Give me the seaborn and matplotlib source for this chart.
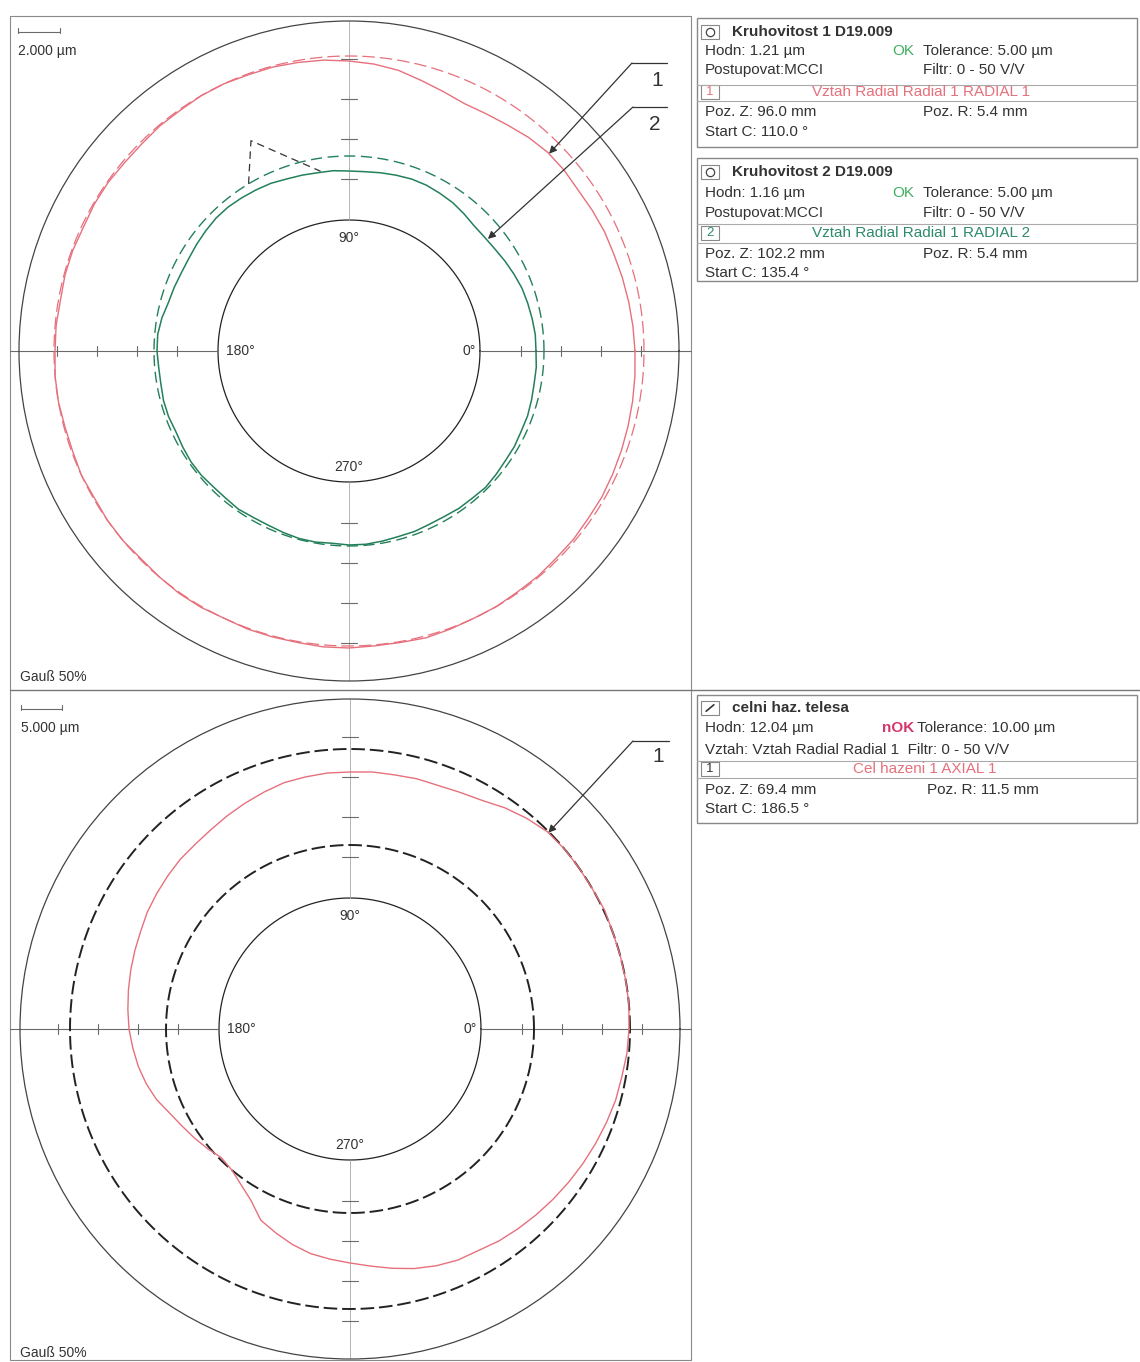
import numpy as np
import matplotlib
matplotlib.use("Agg")
import matplotlib.pyplot as plt
from matplotlib.patches import Rectangle
import seaborn as sns

# ---------------- data ----------------
angles_deg = list(range(0, 360, 5))

# Panel 1 (Kruhovitost) - plotted radius of each profile
red1_profile = [286, 285, 284, 283, 282, 282, 281, 280, 281, 281, 279, 276,
                274, 273, 276, 280, 285, 288, 290, 292, 293, 294, 294, 295,
                295, 294, 294, 293, 293, 294, 294, 293, 294, 294, 293, 294,
                294, 295, 295, 294, 294, 295, 294, 295, 295, 294, 295, 296,
                296, 295, 296, 296, 296, 297, 297, 296, 296, 297, 296, 295,
                295, 294, 294, 293, 293, 292, 292, 291, 290, 289, 288, 287]
green1_profile = [187, 187, 186, 185, 184, 182, 180, 178, 177, 177, 179, 181,
                  182, 183, 183, 182, 181, 180, 180, 181, 181, 182, 183, 185,
                  186, 187, 188, 188, 187, 186, 185, 185, 186, 187, 190, 192,
                  192, 191, 191, 192, 192, 191, 192, 193, 193, 192, 192, 193,
                  192, 192, 193, 194, 194, 193, 194, 194, 193, 192, 192, 191,
                  191, 192, 192, 193, 192, 191, 191, 190, 190, 189, 188, 188]
red1_ref = 295
green1_ref = 195
start_marker_deg = [121, 115, 99]
start_marker_r = [195, 232, 182]

# Panel 2 (celni haz. telesa)
red2_profile = [279, 280, 280, 280, 280, 281, 280, 280, 280, 279, 275, 270,
                264, 261, 259, 259, 258, 258, 257, 257, 256, 255, 252, 249,
                246, 243, 241, 240, 238, 236, 234, 231, 229, 227, 225, 223,
                221, 218, 215, 211, 206, 199, 194, 190, 186, 182, 184, 190,
                198, 211, 217, 223, 228, 231, 234, 238, 243, 248, 252, 255,
                256, 259, 261, 263, 265, 267, 269, 271, 273, 275, 276, 278]
dash2_outer = 280
dash2_inner = 184

inner_r = 131
outer_r = 330
tick_r = [172, 212, 252, 292]
angle_label_deg = [0, 90, 180, 270]
angle_label_txt = ["0°", "90°", "180°", "270°"]
angle_label_r = [120, 113, 109, 116]

scale_labels = ["2.000 µm", "5.000 µm"]
filter_label = "Gauß 50%"

box1_lines = ["Kruhovitost 1 D19.009", "Hodn: 1.21 µm", "OK", "Tolerance: 5.00 µm",
              "Postupovat:MCCI", "Filtr: 0 - 50 V/V", "1", "Vztah Radial Radial 1 RADIAL 1",
              "Poz. Z: 96.0 mm", "Poz. R: 5.4 mm", "Start C: 110.0 °"]
box2_lines = ["Kruhovitost 2 D19.009", "Hodn: 1.16 µm", "OK", "Tolerance: 5.00 µm",
              "Postupovat:MCCI", "Filtr: 0 - 50 V/V", "2", "Vztah Radial Radial 1 RADIAL 2",
              "Poz. Z: 102.2 mm", "Poz. R: 5.4 mm", "Start C: 135.4 °"]
box3_lines = ["celni haz. telesa", "Hodn: 12.04 µm", "nOK", "Tolerance: 10.00 µm",
              "Vztah: Vztah Radial Radial 1  Filtr: 0 - 50 V/V", "1", "Cel hazeni 1 AXIAL 1",
              "Poz. Z: 69.4 mm", "Poz. R: 11.5 mm", "Start C: 186.5 °"]

# ---------------- style ----------------
sns.set_theme(style="white")
plt.rcParams["font.family"] = ["Liberation Sans", "DejaVu Sans"]

RED = "#e6707c"
GREEN = "#23805a"
TXT = "#333333"
GRAY = "#6a6a6a"

W, H = 1140, 1362
fig = plt.figure(figsize=(W / 100, H / 100), dpi=100)
fig.patch.set_facecolor("white")

bg = fig.add_axes([0, 0, 1, 1])
bg.set_xlim(0, W)
bg.set_ylim(H, 0)
bg.axis("off")
bg.set_zorder(0)

# panel frames
bg.plot([10, 691, 691, 10, 10], [16, 16, 1360, 1360, 16], color="#8a8a8a", lw=0.8)
bg.plot([10, 1140], [690, 690], color="#777777", lw=1.0)


def polar_panel(cx, cy):
    ax = fig.add_axes([(cx - outer_r) / W, 1 - (cy + outer_r) / H,
                       2 * outer_r / W, 2 * outer_r / H], projection="polar")
    ax.set_ylim(0, outer_r)
    ax.grid(False)
    ax.set_xticks([])
    ax.set_yticks([])
    ax.patch.set_alpha(0)
    ax.spines["polar"].set_color("#444444")
    ax.spines["polar"].set_linewidth(0.9)
    ax.set_zorder(2)
    th = np.deg2rad(np.linspace(0, 360, 721))
    ax.plot(th, np.full_like(th, inner_r), color="#222222", lw=0.9)
    for a in [0, 180]:
        ax.plot([np.deg2rad(a)] * 2, [inner_r, outer_r], color=GRAY, lw=0.8)
    for a in [90, 270]:
        ax.plot([np.deg2rad(a)] * 2, [inner_r, outer_r], color="#a8a8a8", lw=0.6)
    for r in tick_r:
        for a in [0, 180]:
            d = 5.0 / r
            ax.plot([np.deg2rad(a) - d, np.deg2rad(a) + d], [r, r], color=GRAY, lw=0.8)
        for a in [90, 270]:
            d = 8.0 / r
            ax.plot([np.deg2rad(a) - d, np.deg2rad(a) + d], [r, r], color=GRAY, lw=0.8)
    for a, t, r in zip(angle_label_deg, angle_label_txt, angle_label_r):
        ax.text(np.deg2rad(a), r, t, ha="center", va="center", fontsize=10, color=TXT)
    bg.plot([10, cx - outer_r], [cy, cy], color=GRAY, lw=0.8)
    bg.plot([cx + outer_r, 691], [cy, cy], color=GRAY, lw=0.8)
    return ax, th


def closed(vals):
    th = np.deg2rad(np.array(angles_deg + [360]))
    return th, np.array(list(vals) + [vals[0]])


# ---------------- panel 1 ----------------
cx1, cy1 = 349, 351
ax1, th = polar_panel(cx1, cy1)
ax1.plot(th, np.full_like(th, red1_ref), color=RED, lw=0.9, ls=(0, (10, 4)))
ax1.plot(th, np.full_like(th, green1_ref), color=GREEN, lw=1.0, ls=(0, (8, 4)))
t, r = closed(red1_profile)
sns.lineplot(x=t, y=r, ax=ax1, sort=False, estimator=None, color=RED, lw=1.0)
t, r = closed(green1_profile)
sns.lineplot(x=t, y=r, ax=ax1, sort=False, estimator=None, color=GREEN, lw=1.1)
ax1.plot(np.deg2rad(start_marker_deg), start_marker_r, color="#333333", lw=0.9, ls=(0, (6, 4)))
ax1.set_xlabel("")
ax1.set_ylabel("")

arrow_kw = dict(arrowstyle="-|>", lw=0.9, color="#333333", mutation_scale=11,
                shrinkA=0, shrinkB=0)
ax1.annotate("", xy=(np.deg2rad(44.6), 281), xytext=(632, 63), textcoords=bg.transData,
             arrowprops=arrow_kw)
ax1.annotate("", xy=(np.deg2rad(38.9), 178.5), xytext=(633, 107), textcoords=bg.transData,
             arrowprops=arrow_kw)
bg.plot([632, 667], [63, 63], color="#333333", lw=0.9)
bg.plot([633, 667], [107, 107], color="#333333", lw=0.9)
bg.text(657, 80, "1", fontsize=15, color=TXT, ha="center", va="center")
bg.text(655, 124, "2", fontsize=15, color=TXT, ha="center", va="center")

# ---------------- panel 2 ----------------
cx2, cy2 = 350, 1029
ax2, th = polar_panel(cx2, cy2)
ax2.plot(th, np.full_like(th, dash2_outer), color="#222222", lw=1.4, ls=(0, (7, 2.5)))
ax2.plot(th, np.full_like(th, dash2_inner), color="#222222", lw=1.4, ls=(0, (7, 2.5)))
t, r = closed(red2_profile)
sns.lineplot(x=t, y=r, ax=ax2, sort=False, estimator=None, color=RED, lw=1.0)
ax2.set_xlabel("")
ax2.set_ylabel("")
ax2.annotate("", xy=(np.deg2rad(44.7), 279), xytext=(633, 741), textcoords=bg.transData,
             arrowprops=arrow_kw)
bg.plot([633, 669], [741, 741], color="#333333", lw=0.9)
bg.text(658, 757, "1", fontsize=15, color=TXT, ha="center", va="center")

# scale bars and filter notes
for (x0, x1, yb, yt), lab in zip([(18, 60, 32, 51), (21, 62, 709, 728)], scale_labels):
    bg.plot([x0, x1], [yb, yb], color=GRAY, lw=0.8)
    bg.plot([x0, x0], [yb - 4, yb + 1], color=GRAY, lw=0.8)
    bg.plot([x1, x1], [yb - 4, yb + 1], color=GRAY, lw=0.8)
    bg.text(x0, yt, lab, fontsize=10, color=TXT, ha="left", va="center")
bg.text(20, 677, filter_label, fontsize=10, color=TXT, ha="left", va="center")
bg.text(20, 1353, filter_label, fontsize=10, color=TXT, ha="left", va="center")


# ---------------- info boxes ----------------
def frame(y0, y1, sep):
    bg.add_patch(Rectangle((697, y0), 440, y1 - y0, fill=False, ec="#888888", lw=1.0))
    for s in sep:
        bg.plot([697, 1137], [s, s], color="#aaaaaa", lw=0.8)


def small_box(yc, txt=None, color=TXT):
    bg.add_patch(Rectangle((701, yc - 7), 18, 14, fill=False, ec="#888888", lw=0.8))
    if txt is not None:
        bg.text(710, yc, txt, fontsize=9.5, color=color, ha="center", va="center")


FS = 11


def kruh_box(lines, ys, seps, y0, y1, colored):
    frame(y0, y1, seps)
    small_box(ys[0])
    bg.plot(710, ys[0], marker="o", mfc="none", mec="#444444", ms=6, mew=0.9)
    bg.text(732, ys[0], lines[0], fontsize=FS, fontweight="bold", color=TXT, va="center")
    bg.text(705, ys[1], lines[1], fontsize=FS, color=TXT, va="center")
    bg.text(892, ys[1], lines[2], fontsize=FS, color="#3fae5f", va="center")
    bg.text(923, ys[1], lines[3], fontsize=FS, color=TXT, va="center")
    bg.text(705, ys[2], lines[4], fontsize=FS, color=TXT, va="center")
    bg.text(923, ys[2], lines[5], fontsize=FS, color=TXT, va="center")
    small_box(ys[3], lines[6], colored)
    bg.text(812, ys[3], lines[7], fontsize=FS, color=colored, va="center")
    bg.text(705, ys[4], lines[8], fontsize=FS, color=TXT, va="center")
    bg.text(923, ys[4], lines[9], fontsize=FS, color=TXT, va="center")
    bg.text(705, ys[5], lines[10], fontsize=FS, color=TXT, va="center")


kruh_box(box1_lines, [32, 51, 70, 92, 112, 132], [85, 101], 18, 147, RED)
kruh_box(box2_lines, [172, 193, 213, 233, 254, 273], [224, 243], 158, 281, "#2e8b6a")

# box 3
ys = [708, 728, 750, 769, 790, 809]
frame(695, 823, [761, 778])
small_box(ys[0])
bg.annotate("", xy=(716, ys[0] - 5), xytext=(704, ys[0] + 5),
            arrowprops=dict(arrowstyle="-", lw=1.2, color="#333333"))
bg.text(732, ys[0], box3_lines[0], fontsize=FS, fontweight="bold", color=TXT, va="center")
bg.text(705, ys[1], box3_lines[1], fontsize=FS, color=TXT, va="center")
bg.text(882, ys[1], box3_lines[2], fontsize=FS, fontweight="bold", color="#d4386c", va="center")
bg.text(917, ys[1], box3_lines[3], fontsize=FS, color=TXT, va="center")
bg.text(705, ys[2], box3_lines[4], fontsize=FS, color=TXT, va="center")
small_box(ys[3], box3_lines[5], TXT)
bg.text(853, ys[3], box3_lines[6], fontsize=FS, color=RED, va="center")
bg.text(705, ys[4], box3_lines[7], fontsize=FS, color=TXT, va="center")
bg.text(927, ys[4], box3_lines[8], fontsize=FS, color=TXT, va="center")
bg.text(705, ys[5], box3_lines[9], fontsize=FS, color=TXT, va="center")

fig.savefig("out.png", dpi=100, facecolor="white")
